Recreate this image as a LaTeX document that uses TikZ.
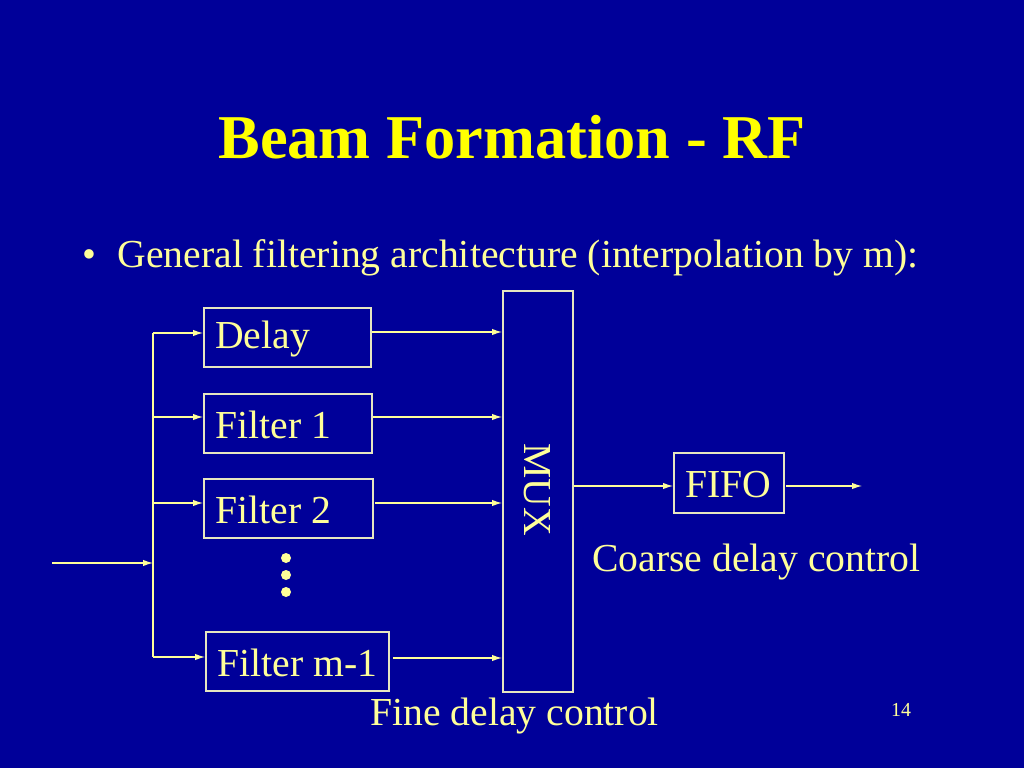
\documentclass[tikz,border=0pt]{standalone}
\usepackage{fontspec}
\setmainfont{Liberation Serif}
\usepackage{tikz}
\usetikzlibrary{arrows.meta}

\definecolor{slideblue}{HTML}{000099}
\definecolor{titleyellow}{HTML}{FFFF00}
\definecolor{textyellow}{HTML}{FFFF99}
\definecolor{boxline}{HTML}{E6E6C0}

\newcommand{\pxunit}{0.703125bp}

\tikzset{
  block/.style={draw=boxline, line width=1.1bp, anchor=north west, inner sep=0pt,
    minimum height=59*\pxunit, text=textyellow, font=\fontsize{28}{30}\selectfont},
  wire/.style={textyellow, line width=0.8bp},
  label/.style={text=textyellow, font=\fontsize{28}{30}\selectfont, inner sep=0pt}
}

\begin{document}
\begin{tikzpicture}[x=\pxunit, y=-\pxunit, >={Latex[length=7bp,width=4.5bp]}]
            \fill[slideblue] (0,0) rectangle (1024,768);
            \useasboundingbox (0,0) rectangle (1024,768);

            % title and bullet
            \node[text=titleyellow, font=\fontsize{44}{48}\selectfont\bfseries] (title) at (512,137) {Beam Formation - RF};
            \node[text=textyellow, font=\fontsize{28}{32}\selectfont, anchor=base west, inner sep=0pt] (bullet) at (82,267) {\textbullet\hspace{15bp}General filtering architecture (interpolation by m):};

            % filter bank
            \node[block, minimum width=167*\pxunit] (delay) at (203,307) {};
            \node[label, anchor=west] at (215,339) {Delay};
            \node[block, minimum width=168*\pxunit] (filter1) at (203,393) {};
            \node[label, anchor=west] at (215,425) {Filter 1};
            \node[block, minimum width=169*\pxunit] (filter2) at (203,478) {};
            \node[label, anchor=west] at (215,510) {Filter 2};
            \node[block, minimum width=183*\pxunit] (filterm) at (205,631) {};
            \node[label, anchor=west] at (217,663) {Filter m-1};
            \foreach \y in {558,575,592}
                \fill[textyellow] (286,\y) circle (5);

            \node[block, minimum width=70*\pxunit, minimum height=401*\pxunit] (mux) at (502,290) {};
            \node[label, rotate=-90] at (537,490) {MUX};
            \node[block, minimum width=110*\pxunit, minimum height=60*\pxunit] (fifo) at (673,452) {};
            \node[label] at (728,485) {FIFO};

            \node[label, anchor=west] (coarse) at (592,562) {Coarse delay control};
            \node[label, anchor=west] (fine) at (370,716) {Fine delay control};
            \node[text=textyellow, font=\fontsize{14}{16}\selectfont, inner sep=0pt] (page) at (901,710) {14};

            % input and fan-out
            \coordinate (in) at (52,563);
            \coordinate (split) at (153,563);
            \coordinate (top) at (153,333);
            \coordinate (bottom) at (153,657);
            \coordinate (out) at (862,486);

            \draw[wire, ->] (in) -- (split);
            \draw[wire] (top) -- (bottom);
            \draw[wire, ->] (top) -- (delay.west |- top);
            \draw[wire, ->] (153,417) -- (filter1.west |- 0,417);
            \draw[wire, ->] (153,503) -- (filter2.west |- 0,503);
            \draw[wire, ->] (bottom) -- (filterm.west |- bottom);

            % into the mux
            \draw[wire, ->] (delay.east |- 0,332) -- (mux.west |- 0,332);
            \draw[wire, ->] (filter1.east |- 0,417) -- (mux.west |- 0,417);
            \draw[wire, ->] (375,503) -- (mux.west |- 0,503);
            \draw[wire, ->] (393,658) -- (mux.west |- 0,658);

            \draw[wire, ->] (mux.east |- 0,486) -- (fifo.west |- 0,486);
            \draw[wire, ->] (786,486) -- (out);
        \end{tikzpicture}
\end{document}
